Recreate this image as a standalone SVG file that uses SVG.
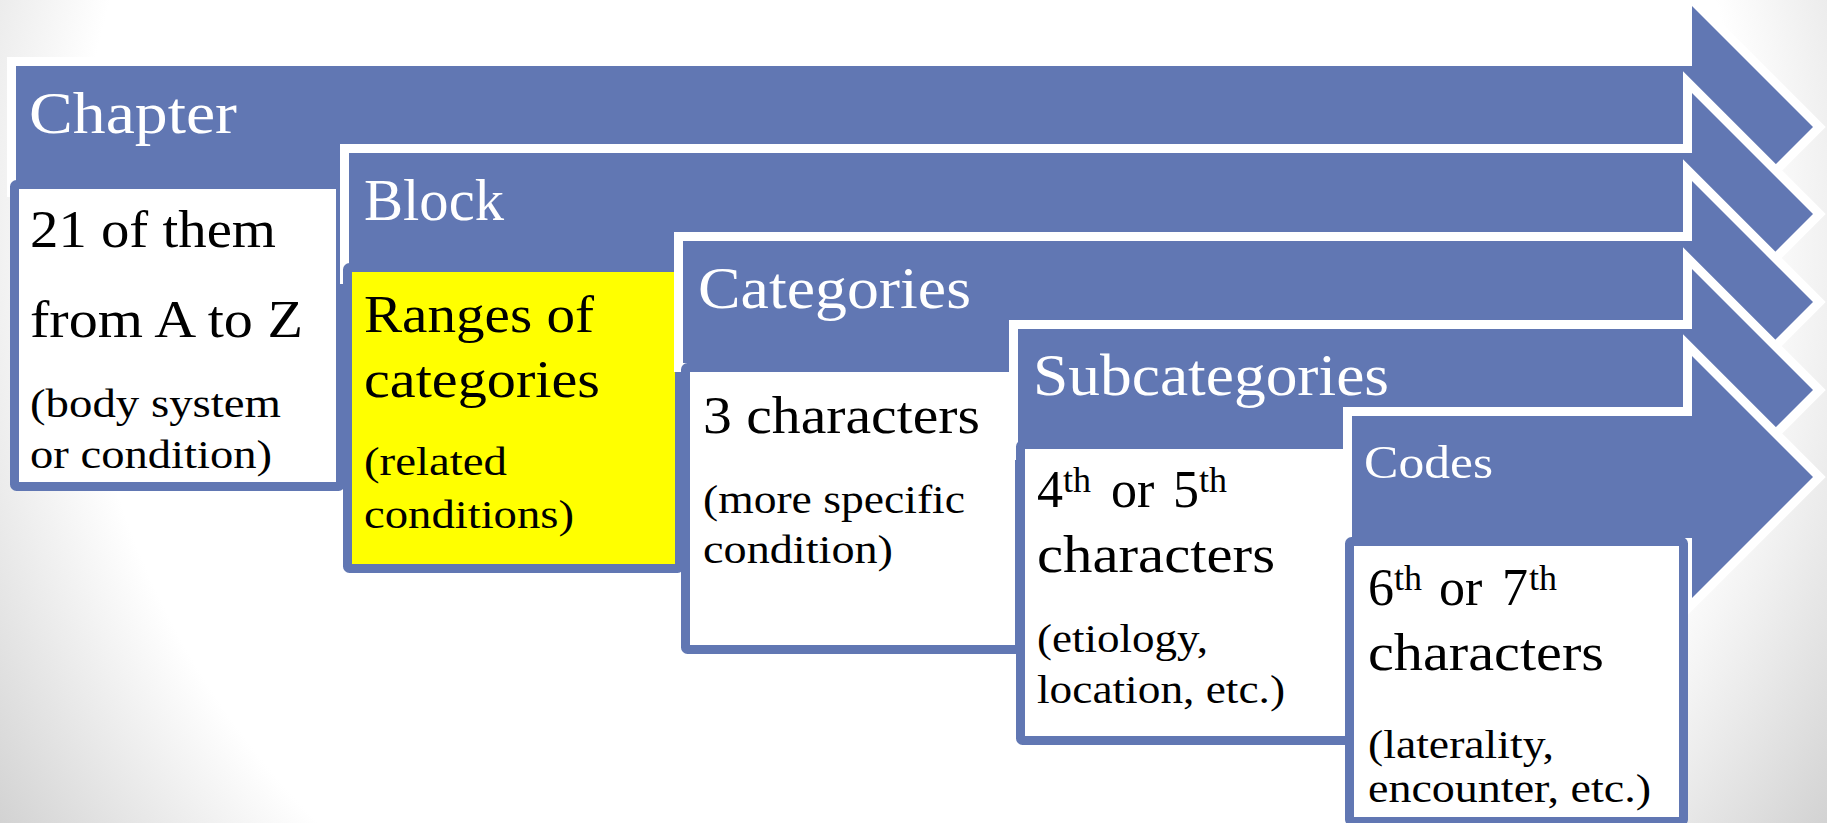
<svg xmlns="http://www.w3.org/2000/svg" width="1827" height="823" viewBox="0 0 1827 823">
<defs>
<radialGradient id="bg" gradientUnits="userSpaceOnUse" cx="913" cy="235" r="1100">
<stop offset="0.76" stop-color="#ffffff"/>
<stop offset="1" stop-color="#d0d0d0"/>
</radialGradient>
<style>
.arrow{fill:#6177B3;stroke:#ffffff;stroke-width:18;paint-order:stroke;stroke-linejoin:miter;stroke-miterlimit:10}
.box{stroke:#6177B3;stroke-width:9;fill:#ffffff}
.yel{fill:#FFFF00}
text{font-family:"Liberation Serif","Times New Roman",serif}
.lbl{fill:#ffffff;font-size:60px}
.big{fill:#000000;font-size:52px}
.sm{fill:#000000;font-size:41px}
.sup{font-size:36px}
</style>
</defs>
<rect x="0" y="0" width="1827" height="823" fill="url(#bg)"/>

<g id="chapter">
<path class="arrow" d="M16,66 H1692 V6 L1813,127 L1692,248 V188 H16 Z"/>
<rect class="box" x="14.5" y="184.5" width="326" height="302" rx="2"/>
<text class="lbl" x="29" y="133" textLength="208" lengthAdjust="spacingAndGlyphs">Chapter</text>
<text class="big" x="30" y="247" textLength="246" lengthAdjust="spacingAndGlyphs">21 of them</text>
<text class="big" x="30" y="337" textLength="273" lengthAdjust="spacingAndGlyphs">from A to Z</text>
<text class="sm" x="30" y="417" textLength="251" lengthAdjust="spacingAndGlyphs">(body system</text>
<text class="sm" x="30" y="468" textLength="242" lengthAdjust="spacingAndGlyphs">or condition)</text>
</g>

<g id="block">
<path class="arrow" d="M349,153 H1692 V93 L1813,214 L1692,335 V275 H349 Z"/>
<rect class="box yel" x="347.5" y="267.5" width="332" height="301" rx="2"/>
<text class="lbl" x="364" y="220" textLength="140" lengthAdjust="spacingAndGlyphs">Block</text>
<text class="big" x="364" y="332" textLength="230" lengthAdjust="spacingAndGlyphs">Ranges of</text>
<text class="big" x="364" y="397" textLength="236" lengthAdjust="spacingAndGlyphs">categories</text>
<text class="sm" x="364" y="475" textLength="143" lengthAdjust="spacingAndGlyphs">(related</text>
<text class="sm" x="364" y="528" textLength="210" lengthAdjust="spacingAndGlyphs">conditions)</text>
</g>

<g id="categories">
<path class="arrow" d="M683,241 H1692 V181 L1813,302 L1692,423 V363 H683 Z"/>
<rect class="box" x="685.5" y="367.5" width="334" height="282" rx="2"/>
<text class="lbl" x="698" y="308" textLength="273" lengthAdjust="spacingAndGlyphs">Categories</text>
<text class="big" x="703" y="433" textLength="277" lengthAdjust="spacingAndGlyphs">3 characters</text>
<text class="sm" x="703" y="513" textLength="262" lengthAdjust="spacingAndGlyphs">(more specific</text>
<text class="sm" x="703" y="563" textLength="190" lengthAdjust="spacingAndGlyphs">condition)</text>
</g>

<g id="subcategories">
<path class="arrow" d="M1018,329 H1692 V269 L1813,390 L1692,511 V451 H1018 Z"/>
<rect class="box" x="1020.5" y="444.5" width="329" height="296" rx="2"/>
<text class="lbl" x="1033" y="395" textLength="356" lengthAdjust="spacingAndGlyphs">Subcategories</text>
<text class="big" x="1037" y="507">4<tspan class="sup" x="1063" y="492">th</tspan><tspan x="1111" y="507">or</tspan><tspan x="1173" y="507">5</tspan><tspan class="sup" x="1199" y="492">th</tspan></text>
<text class="big" x="1037" y="572" textLength="238" lengthAdjust="spacingAndGlyphs">characters</text>
<text class="sm" x="1037" y="652" textLength="171" lengthAdjust="spacingAndGlyphs">(etiology,</text>
<text class="sm" x="1037" y="703" textLength="248" lengthAdjust="spacingAndGlyphs">location, etc.)</text>
</g>

<g id="codes">
<path class="arrow" d="M1352,416 H1692 V356 L1813,477 L1692,598 V538 H1352 Z"/>
<rect class="box" x="1349.5" y="541.5" width="334" height="280" rx="2"/>
<text class="lbl" x="1364" y="478" style="font-size:47px" textLength="129" lengthAdjust="spacingAndGlyphs">Codes</text>
<text class="big" x="1368" y="605">6<tspan class="sup" x="1394" y="590">th</tspan><tspan x="1439" y="605">or</tspan><tspan x="1502" y="605">7</tspan><tspan class="sup" x="1529" y="590">th</tspan></text>
<text class="big" x="1368" y="670" textLength="236" lengthAdjust="spacingAndGlyphs">characters</text>
<text class="sm" x="1368" y="758" textLength="186" lengthAdjust="spacingAndGlyphs">(laterality,</text>
<text class="sm" x="1368" y="802" textLength="283" lengthAdjust="spacingAndGlyphs">encounter, etc.)</text>
</g>
</svg>
